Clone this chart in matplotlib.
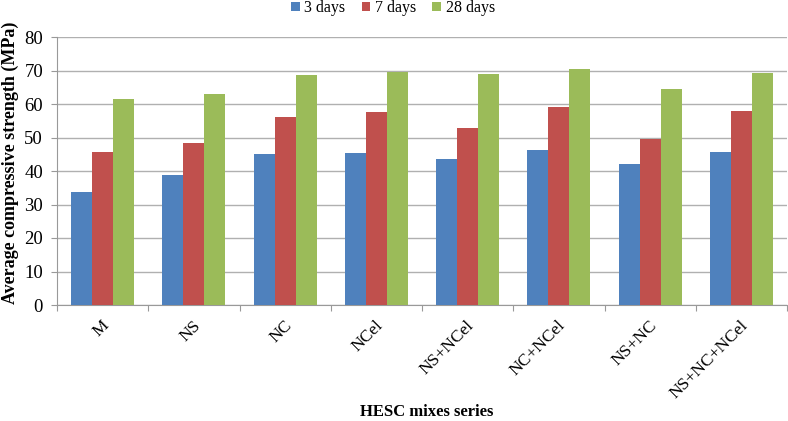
import numpy as np
import matplotlib.pyplot as plt
from matplotlib.transforms import ScaledTranslation

plt.rcParams['font.family'] = ['Liberation Serif', 'DejaVu Serif']

mixes = ["M", "NS", "NC", "NCel", "NS+NCel", "NC+NCel", "NS+NC", "NS+NC+NCel"]
days_3 = [33.8, 38.8, 45.0, 45.5, 43.5, 46.2, 42.1, 45.8]
days_7 = [45.8, 48.3, 56.0, 57.7, 52.9, 59.1, 49.5, 57.9]
days_28 = [61.4, 63.0, 68.7, 69.6, 69.0, 70.4, 64.6, 69.2]
series = [("3 days", days_3, "#4f81bd"),
          ("7 days", days_7, "#c0504d"),
          ("28 days", days_28, "#9bbb59")]

fig = plt.figure(figsize=(7.88, 4.21), dpi=100)
ax = fig.add_axes([57 / 788, 116 / 421, 730 / 788, 268 / 421])

x = np.arange(len(mixes))
w = 0.23
for i, (name, vals, col) in enumerate(series):
    ax.bar(x + (i - 1) * w, vals, width=w, color=col, label=name, zorder=3)

ax.set_xlim(-0.5, len(mixes) - 0.5)
ax.set_ylim(0, 80)
ax.set_yticks(range(0, 81, 10))
ax.grid(axis="y", color="#b0b0b0", linewidth=1.0, zorder=0)

# category boundary ticks
ax.set_xticks(np.arange(len(mixes) + 1) - 0.5)
ax.set_xticklabels([])
ax.tick_params(axis="x", length=4, color="#999999")
# rotated category labels
ax.set_xticks(x, minor=True)
ax.set_xticklabels(mixes, minor=True, rotation=45, ha="right",
                   rotation_mode="anchor", fontsize=12.5)
ax.tick_params(axis="x", which="minor", length=0, pad=9)
shift = ScaledTranslation(-1 / 72, 0, fig.dpi_scale_trans)
for lab in ax.get_xticklabels(minor=True):
    lab.set_transform(lab.get_transform() + shift)
ax.tick_params(axis="y", length=4, color="#999999", labelsize=13.5, pad=6)

for s in ["top", "right"]:
    ax.spines[s].set_visible(False)
for s in ["left", "bottom"]:
    ax.spines[s].set_color("#999999")

ax.set_ylabel("Average compressive strength (MPa)", fontsize=13, fontweight="bold")
ax.yaxis.set_label_coords(-0.052, 0.53)
fig.text(427 / 788, 1 - 412 / 421, "HESC mixes series", ha="center", va="center",
         fontsize=12, fontweight="bold")

ax.legend(loc="center", bbox_to_anchor=(393 / 788, 1 - 8 / 421),
          bbox_transform=fig.transFigure, ncol=3, frameon=False,
          fontsize=11.5, handlelength=0.55, handleheight=0.55, handletextpad=0.3,
          columnspacing=1.0)

fig.savefig("out.png", dpi=100)
